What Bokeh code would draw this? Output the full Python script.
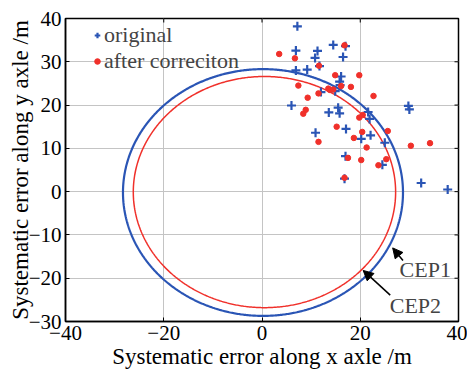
import numpy as np
from bokeh.plotting import figure
from bokeh.models import (Range1d, Legend, LegendItem, Arrow, NormalHead,
                          Label, FixedTicker)
from bokeh.embed import file_html
from bokeh.resources import INLINE

# ---- data ----
orig_x = [7.2, 6.9, 11.3, 10.8, 14.5, 17.0, 16.5, 6.9, 9.2, 11.7, 16.1, 15.8, 15.9,
          12.0, 14.9, 6.0, 13.6, 15.5, 15.8, 21.6, 21.9, 10.9, 17.1, 20.2, 22.1,
          17.0, 16.8, 29.8, 30.0, 25.0, 24.5, 32.4, 37.8]
orig_y = [38.2, 32.6, 32.5, 30.9, 33.9, 33.6, 31.1, 28.0, 28.2, 29.0, 26.6, 25.4, 24.6,
          23.0, 23.2, 19.9, 18.3, 19.4, 18.1, 18.4, 16.8, 13.6, 14.5, 12.2, 13.0,
          8.2, 3.0, 19.8, 19.0, 11.3, 6.2, 2.0, 0.5]
corr_x = [3.5, 6.7, 16.8, 11.6, 14.9, 19.8, 16.1, 7.4, 18.1, 13.5, 13.8, 14.5, 11.5,
          9.3, 22.7, 8.9, 8.4, 19.8, 20.5, 15.2, 20.4, 18.7, 11.5, 21.3, 17.5, 20.2,
          16.8, 25.6, 30.3, 34.2, 25.3, 23.7]
corr_y = [31.8, 30.8, 33.8, 29.1, 26.9, 26.9, 24.4, 24.5, 24.2, 23.8, 23.5, 23.6, 22.7,
          21.7, 22.1, 18.9, 18.0, 17.1, 17.7, 15.0, 13.8, 12.4, 11.5, 10.2, 7.8, 7.3,
          3.2, 14.0, 10.6, 11.2, 7.5, 6.1]
cep1_radius = 28.5
cep1_center = (0.2, -0.2)
cep2_radius = 26.7
cep2_center = (0.5, -0.1)
x_ticks = [-40, -20, 0, 20, 40]
y_ticks = [-30, -20, -10, 0, 10, 20, 30, 40]
legend_labels = ["original", "after correciton"]
cep_labels = ["CEP1", "CEP2"]

FONT = "Liberation Serif"
BLUE = "#2a55b5"
RED = "#f0302a"
X0, X1 = x_ticks[0], x_ticks[-1]
Y0, Y1 = y_ticks[0], y_ticks[-1]

p = figure(width=467, height=371, output_backend="svg", toolbar_location=None,
           x_range=Range1d(X0, X1), y_range=Range1d(Y0, Y1),
           min_border_left=65, min_border_right=9, min_border_top=18, min_border_bottom=50,
           background_fill_color="white", border_fill_color="white")
p.outline_line_color = "black"
p.outline_line_width = 1.5

def minus(v):
    return str(v).replace("-", "\u2212")

for ax in (p.xaxis[0], p.yaxis[0]):
    ax.major_label_text_font = FONT
    ax.major_label_text_font_size = "21px"
    ax.major_label_text_color = "black"
    ax.axis_label_text_font = FONT
    ax.axis_label_text_font_size = "23px"
    ax.axis_label_text_font_style = "normal"
    ax.axis_label_text_color = "black"
    ax.major_tick_in = 4
    ax.major_tick_out = 0
    ax.minor_tick_in = 0
    ax.minor_tick_out = 0
    ax.axis_line_color = "black"
    ax.axis_line_width = 1.5
    ax.major_tick_line_color = "black"
    ax.major_label_standoff = 4

p.xaxis[0].ticker = FixedTicker(ticks=x_ticks)
p.yaxis[0].ticker = FixedTicker(ticks=y_ticks)
p.xaxis[0].major_label_overrides = {t: minus(t) for t in x_ticks}
p.yaxis[0].major_label_overrides = {t: minus(t) for t in y_ticks}
p.xaxis[0].axis_label = "Systematic error along x axle /m"
p.yaxis[0].axis_label = "Systematic error along y axle /m"
p.xaxis[0].axis_label_standoff = 1
p.yaxis[0].axis_label_standoff = -7

p.xgrid.ticker = FixedTicker(ticks=x_ticks[1:-1])
p.ygrid.ticker = FixedTicker(ticks=y_ticks[1:-1])
p.xgrid.grid_line_color = "#c4c4c4"
p.ygrid.grid_line_color = "#c4c4c4"

# inward ticks on the top and right edges of the box (clipped to the frame)
p.scatter(x_ticks, [Y1] * len(x_ticks), marker="dash", angle=np.pi / 2, size=8,
          line_color="black", line_width=1)
p.scatter([X1] * len(y_ticks), y_ticks, marker="dash", size=8,
          line_color="black", line_width=1)

theta = np.linspace(0, 2 * np.pi, 721)
p.line(cep1_center[0] + cep1_radius * np.cos(theta),
       cep1_center[1] + cep1_radius * np.sin(theta), line_color=BLUE, line_width=2.2)
p.line(cep2_center[0] + cep2_radius * np.cos(theta),
       cep2_center[1] + cep2_radius * np.sin(theta), line_color=RED, line_width=1.5)

r_orig = p.scatter(orig_x, orig_y, marker="cross", size=9, line_width=2.2, line_color=BLUE)
r_corr = p.scatter(corr_x, corr_y, marker="circle", size=5.5, fill_color=RED, line_color=RED)

legend = Legend(items=[LegendItem(label=legend_labels[0], renderers=[r_orig]),
                       LegendItem(label=legend_labels[1], renderers=[r_corr])],
                location=(25, 247), background_fill_alpha=0, border_line_alpha=0,
                label_text_font=FONT, label_text_font_size="22px",
                glyph_width=14, glyph_height=20, label_standoff=0, padding=0,
                spacing=0, margin=0, label_height=23)
p.add_layout(legend)

# CEP annotations
p.add_layout(Arrow(end=NormalHead(size=10, fill_color="black", line_color="black"),
                   x_start=28.7, y_start=-15.9, x_end=26.6, y_end=-13.0, line_width=1.5))
p.add_layout(Arrow(end=NormalHead(size=10, fill_color="black", line_color="black"),
                   x_start=26.1, y_start=-23.9, x_end=20.6, y_end=-18.2, line_width=1.5))
p.add_layout(Label(x=28.0, y=-17.9, text=cep_labels[0], text_baseline="middle",
                   text_font=FONT, text_font_size="22px"))
p.add_layout(Label(x=26.0, y=-26.2, text=cep_labels[1], text_baseline="middle",
                   text_font=FONT, text_font_size="22px"))

open("out.html", "w").write(file_html(p, INLINE))
